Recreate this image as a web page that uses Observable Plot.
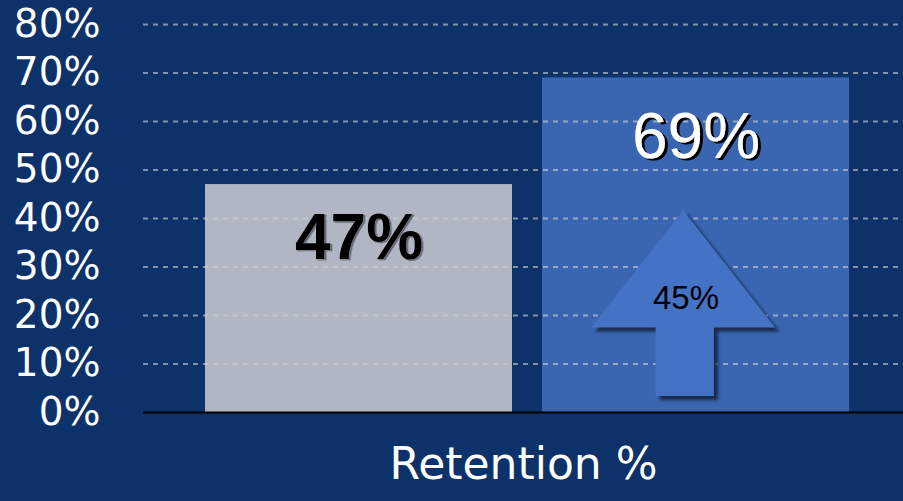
<!DOCTYPE html>
<html>
<head>
<meta charset="utf-8">
<script src="https://cdn.jsdelivr.net/npm/d3@7"></script>
<script src="https://cdn.jsdelivr.net/npm/@observablehq/plot@0.6"></script>
<style>
  html, body { margin: 0; padding: 0; background: #0d3169; }
  #chart { width: 903px; height: 501px; overflow: hidden; }
</style>
</head>
<body>
<div id="chart"></div>
<script>
// ---- data ----
const series = ["Before", "After"];
const values = [47, 69];
const valueLabels = ["47%", "69%"];
const barColors = ["#b0b6c2", "#3a65b0"];
const yTicks = [0, 10, 20, 30, 40, 50, 60, 70, 80];
const categoryLabel = "Retention %";
const changeLabel = "45%";
// arrow outline: x as fraction of the "After" band, y in percent
const arrowFx = [0.46, 0.76, 0.56, 0.56, 0.37, 0.37, 0.16];
const arrowY  = [41.6, 17.4, 17.4, 3.3, 3.3, 17.4, 17.4];

const bars = series.map((s, i) => ({s, v: values[i], label: valueLabels[i], color: barColors[i]}));

function arrowMark(index, scales, values, dimensions) {
  const x = scales.x, y = scales.y;
  const x0 = x("After"), bw = x.bandwidth();
  const pts = arrowFx.map((f, i) => [x0 + f * bw, y(arrowY[i])]);
  const ns = "http://www.w3.org/2000/svg";
  const g = document.createElementNS(ns, "g");
  const sh = document.createElementNS(ns, "polygon");
  sh.setAttribute("points", pts.map(p => `${p[0] + 4},${p[1] + 4}`).join(" "));
  sh.setAttribute("fill", "#07152f");
  sh.setAttribute("opacity", "0.75");
  sh.setAttribute("filter", "url(#blur)");
  const ar = document.createElementNS(ns, "polygon");
  ar.setAttribute("points", pts.map(p => `${p[0]},${p[1]}`).join(" "));
  ar.setAttribute("fill", "#4472c4");
  const defs = document.createElementNS(ns, "defs");
  defs.innerHTML = '<filter id="blur" x="-20%" y="-20%" width="140%" height="140%"><feGaussianBlur stdDeviation="1.5"/></filter>' +
    '<filter id="shadowDark" x="-10%" y="-10%" width="130%" height="130%"><feDropShadow dx="3" dy="2" stdDeviation="0.4" flood-color="#000" flood-opacity="1"/></filter>' +
    '<filter id="shadowLight" x="-10%" y="-10%" width="130%" height="130%"><feDropShadow dx="1.5" dy="1" stdDeviation="0.3" flood-color="#5a5f6c" flood-opacity="1"/></filter>';
  g.append(defs, sh, ar);
  return g;
}

const plot = Plot.plot({
  width: 903,
  height: 501,
  marginTop: 24,
  marginBottom: 89,
  marginLeft: 143,
  marginRight: 0,
  style: {background: "#0d3169", color: "white", fontFamily: "DejaVu Sans"},
  x: {domain: series, paddingInner: 0.0888, paddingOuter: 0.1687, align: 0.535, axis: null},
  y: {domain: [0, 80], axis: null},
  marks: [
    Plot.barY(bars, {x: "s", y: "v", fill: "color"}),
    Plot.gridY(yTicks.filter(d => d > 0), {stroke: "#d0d0d0", strokeOpacity: 0.62, strokeDasharray: "5,5", strokeWidth: 2}),
    Plot.ruleY([0], {stroke: "black", strokeWidth: 2}),
    Plot.axisY(yTicks, {label: null, tickFormat: d => d + "%", tickSize: 0, tickPadding: 43, fontSize: 39, fill: "white", fontFamily: "DejaVu Sans"}),
    arrowMark,
    // 47% label
    Plot.text([bars[0]], {x: "s", y: "v", text: "label", dy: 54, fontSize: 64, fontWeight: "bold", fontFamily: "Liberation Sans", fill: "black", stroke: "#b0b6c2", strokeWidth: 0.5}),
    // 69% label
    Plot.text([bars[1]], {x: "s", y: "v", text: "label", dy: 60, fontSize: 64, fontFamily: "Liberation Sans", fill: "white"}),
    // arrow label
    Plot.text([changeLabel], {x: () => "After", y: () => 23.5, text: d => d, dx: -10, fontSize: 33, fontFamily: "Liberation Sans", fill: "black"}),
    // category label
    Plot.text([categoryLabel], {frameAnchor: "bottom", text: d => d, dy: 66, fontSize: 44, fontFamily: "DejaVu Sans", fill: "white"})
  ]
});
d3.select(plot).selectAll("text").filter(function() { return this.textContent === valueLabels[1]; }).attr("filter", "url(#shadowDark)");
d3.select(plot).selectAll("text").filter(function() { return this.textContent === valueLabels[0]; }).attr("filter", "url(#shadowLight)");
document.getElementById("chart").append(plot);
</script>
</body>
</html>
